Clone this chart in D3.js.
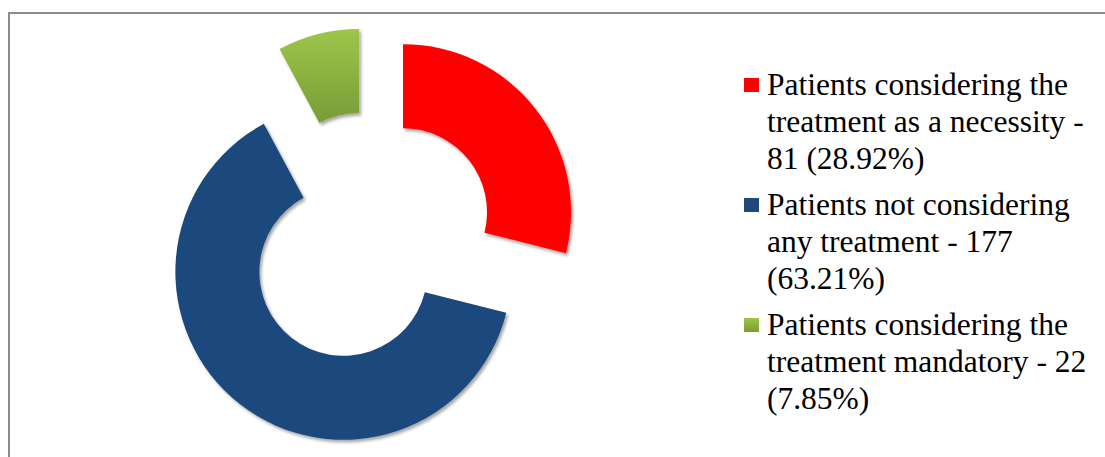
<!DOCTYPE html>
<html>
<head>
<meta charset="utf-8">
<script src="https://cdn.jsdelivr.net/npm/d3@7/dist/d3.min.js"></script>
<style>
  html, body { margin: 0; padding: 0; background: #fff; }
  svg { display: block; }
  svg text.legend-label { font-family: "Liberation Serif" !important; }
</style>
</head>
<body>
<div id="chart"></div>
<script>
// Attitudes toward treatment (n = 280)
const categories = [
  "Patients considering the treatment as a necessity",
  "Patients not considering any treatment",
  "Patients considering the treatment mandatory"
];
const counts = [81, 177, 22];
const percents = [28.92, 63.21, 7.85];
// Legend line breaks for each entry
const legendLines = [
  ["Patients considering the", "treatment as a necessity -", "81 (28.92%)"],
  ["Patients not considering", "any treatment - 177", "(63.21%)"],
  ["Patients considering the", "treatment mandatory - 22", "(7.85%)"]
];
const colors = ["#ff0000", "#1f497d", "url(#greenGrad)"];

const width = 1105, height = 457;
const svg = d3.select("#chart").append("svg")
  .attr("width", width).attr("height", height);

const defs = svg.append("defs");
const g1 = defs.append("linearGradient").attr("id", "greenGrad")
  .attr("x1", 0).attr("y1", 0).attr("x2", 0).attr("y2", 1);
g1.append("stop").attr("offset", "0%").attr("stop-color", "#9dc64a");
g1.append("stop").attr("offset", "100%").attr("stop-color", "#789c37");

const shadow = defs.append("filter").attr("id", "shadow")
  .attr("x", "-20%").attr("y", "-20%").attr("width", "140%").attr("height", "140%");
shadow.append("feDropShadow").attr("dx", 2).attr("dy", 2.5)
  .attr("stdDeviation", 1.8).attr("flood-color", "#000").attr("flood-opacity", 0.35);

// Frame (top and left edges visible)
svg.append("path")
  .attr("d", `M9,${height} L9,13 L${width},13`)
  .attr("fill", "none").attr("stroke", "#8c8c8c").attr("stroke-width", 2);

// Exploded doughnut
const cx = 369.5, cy = 238.3;
const outerR = 168, innerR = 84, explode = 42.5;

const pie = d3.pie().sort(null).value(d => d)(percents);
const arc = d3.arc().innerRadius(innerR).outerRadius(outerR);

const ring = svg.append("g").attr("transform", `translate(${cx},${cy})`);
ring.selectAll("path.slice")
  .data(pie)
  .join("path")
  .attr("class", "slice")
  .attr("d", arc)
  .attr("fill", (d, i) => colors[i])
  .attr("filter", "url(#shadow)")
  .attr("transform", d => {
    const a = (d.startAngle + d.endAngle) / 2;
    return `translate(${explode * Math.sin(a)},${-explode * Math.cos(a)})`;
  });

// Legend swatches
const legend = svg.append("g").attr("transform", "translate(744,78)");
legend.selectAll("rect")
  .data(categories)
  .join("rect")
  .attr("y", (d, i) => i * 120)
  .attr("width", 15).attr("height", 14)
  .attr("fill", (d, i) => colors[i]);

// Legend labels, one text element per line
const rows = legendLines.flatMap((lines, i) => lines.map((t, j) => ({ t, i, j })));
legend.selectAll("text")
  .data(rows)
  .join("text")
  .attr("class", "legend-label")
  .attr("x", 23)
  .attr("y", d => d.i * 120 + 17 + d.j * 36.8)
  .style("font-family", "\"Liberation Serif\"", "important")
  .style("font-size", "31.5px")
  .text(d => d.t);
</script>
</body>
</html>
